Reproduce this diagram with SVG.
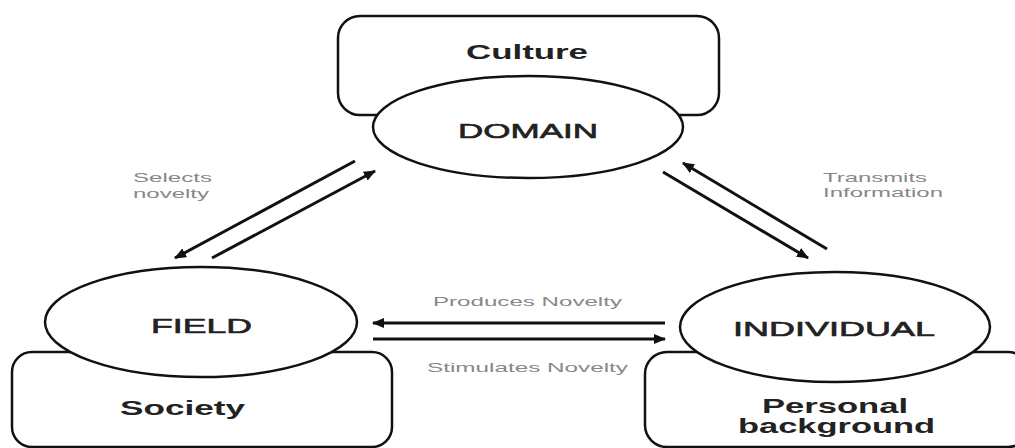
<svg xmlns="http://www.w3.org/2000/svg" width="1015" height="448" viewBox="0 0 1015 448">
<style>
.box{fill:#fff;stroke:#111;stroke-width:2.5}
.ell{fill:#fff;stroke:#111;stroke-width:2.5}
.t{font-family:"Liberation Sans",Arial,sans-serif;fill:#222}
.big{font-size:20px}
.b{font-weight:bold}
.m{stroke:#222;stroke-width:0.6}
.lbl{font-family:"Liberation Sans",Arial,sans-serif;font-size:13px;fill:#888}
.arr{stroke:#111;stroke-width:3;fill:none;marker-end:url(#ah)}
</style>
<defs>
<marker id="ah" markerWidth="12" markerHeight="10" refX="11" refY="5" orient="auto" markerUnits="userSpaceOnUse">
<path d="M0,0 L12,5 L0,10 Z" fill="#111"/>
</marker>
</defs>
<rect width="1015" height="448" fill="#fff"/>
<g id="domain">
<rect class="box" x="338" y="16" width="381" height="99" rx="22"/>
<text class="t big b" x="466" y="59" textLength="122" lengthAdjust="spacingAndGlyphs">Culture</text>
<ellipse class="ell" cx="528" cy="127" rx="155" ry="51"/>
<text class="t big m" x="458" y="138" textLength="140" lengthAdjust="spacingAndGlyphs">DOMAIN</text>
</g>
<g id="field">
<rect class="box" x="12" y="352" width="380" height="95" rx="20"/>
<text class="t big b" x="120" y="415" textLength="125" lengthAdjust="spacingAndGlyphs">Society</text>
<ellipse class="ell" cx="201" cy="322" rx="156" ry="55"/>
<text class="t big m" x="151" y="333" textLength="101" lengthAdjust="spacingAndGlyphs">FIELD</text>
</g>
<g id="individual">
<rect class="box" x="645" y="352" width="385" height="95" rx="22"/>
<text class="t big b" x="762" y="413" textLength="146" lengthAdjust="spacingAndGlyphs">Personal</text>
<text class="t big b" x="738" y="433" textLength="197" lengthAdjust="spacingAndGlyphs">background</text>
<ellipse class="ell" cx="835" cy="327" rx="155" ry="55"/>
<text class="t big m" x="733" y="336" textLength="202" lengthAdjust="spacingAndGlyphs">INDIVIDUAL</text>
</g>
<g id="connectors">
<line class="arr" x1="355" y1="161" x2="175" y2="258"/>
<line class="arr" x1="212" y1="258" x2="375" y2="171"/>
<line class="arr" x1="827" y1="249" x2="683" y2="163"/>
<line class="arr" x1="663" y1="172" x2="808" y2="258"/>
<line class="arr" x1="665" y1="323" x2="373" y2="323"/>
<line class="arr" x1="373" y1="339" x2="665" y2="339"/>
</g>
<g id="labels">
<text class="lbl" x="133" y="182" textLength="79" lengthAdjust="spacingAndGlyphs">Selects</text>
<text class="lbl" x="133" y="198" textLength="76" lengthAdjust="spacingAndGlyphs">novelty</text>
<text class="lbl" x="823" y="182" textLength="104" lengthAdjust="spacingAndGlyphs">Transmits</text>
<text class="lbl" x="823" y="197" textLength="120" lengthAdjust="spacingAndGlyphs">Information</text>
<text class="lbl" x="433" y="306" textLength="189" lengthAdjust="spacingAndGlyphs">Produces Novelty</text>
<text class="lbl" x="427" y="372" textLength="201" lengthAdjust="spacingAndGlyphs">Stimulates Novelty</text>
</g>
</svg>
